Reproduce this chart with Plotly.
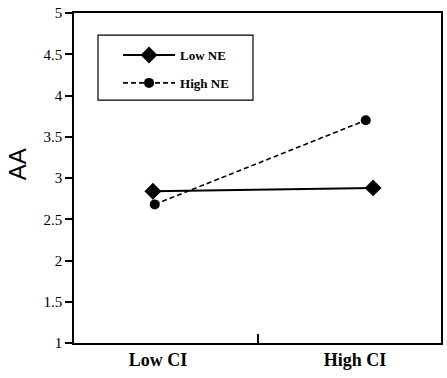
import plotly.graph_objects as go

categories = ["Low CI", "High CI"]
cat_pos = [0.43, 1.63]
low_ne = [2.84, 2.88]
high_ne_pos = [0.44, 1.59]
high_ne = [2.68, 3.70]
y_ticks = [1, 1.5, 2, 2.5, 3, 3.5, 4, 4.5, 5]
label_pos = [0.458, 1.531]

fig = go.Figure()
fig.add_trace(go.Scatter(x=cat_pos, y=low_ne, name="Low NE", mode="lines+markers",
                         legendgroup="a",
                         line=dict(color="black", width=2),
                         marker=dict(symbol="diamond", size=13, color="black")))
fig.add_trace(go.Scatter(x=high_ne_pos, y=high_ne, name="High NE", mode="lines+markers",
                         legendgroup="b",
                         line=dict(color="black", width=1.6, dash="5px,3px"),
                         marker=dict(symbol="circle", size=10, color="black")))

# legend frame
fig.add_shape(type="rect", xref="paper", yref="paper",
              x0=0.0654, x1=0.4877, y0=0.736, y1=0.933,
              line=dict(color="black", width=1.2), fillcolor="rgba(0,0,0,0)")

# y-axis title
fig.add_annotation(text="AA", xref="paper", yref="paper", x=(17 - 74) / 367, y=0.542,
                   textangle=-90, showarrow=False, xanchor="center", yanchor="middle",
                   font=dict(family="Liberation Sans", size=24, color="black"))

fig.update_layout(
    width=447, height=378,
    margin=dict(l=74, r=6, t=13, b=35),
    plot_bgcolor="white", paper_bgcolor="white",
    showlegend=True,
    legend=dict(x=0.12, y=0.918, xanchor="left", yanchor="top",
                bgcolor="rgba(0,0,0,0)", borderwidth=0, itemwidth=52,
                font=dict(family="Liberation Serif", size=13, color="black", weight="bold"),
                tracegroupgap=8),
    font=dict(family="Liberation Serif", color="black"),
)
fig.update_xaxes(range=[0, 2], tickvals=label_pos, ticktext=categories, ticks="",
                 tickfont=dict(family="Liberation Serif", size=18, weight="bold"),
                 showline=True, linecolor="black", linewidth=1.5, mirror=True,
                 showgrid=False, zeroline=False, automargin=False,
                 minor=dict(tickvals=[1], ticks="inside", ticklen=9, tickcolor="black", tickwidth=1.5))
fig.update_yaxes(range=[1, 5], tickvals=y_ticks, ticktext=[f"{v:g}" for v in y_ticks],
                 ticks="outside", ticklen=7, tickcolor="black", tickwidth=1.5,
                 tickfont=dict(family="Liberation Serif", size=15),
                 ticklabeloverflow="allow",
                 showline=True, linecolor="black", linewidth=1.5, mirror=True,
                 showgrid=False, zeroline=False, automargin=False)

fig.write_html("out.html", config={"displayModeBar": False},
               post_script="document.body.style.margin='0';document.body.style.overflow='hidden';")
